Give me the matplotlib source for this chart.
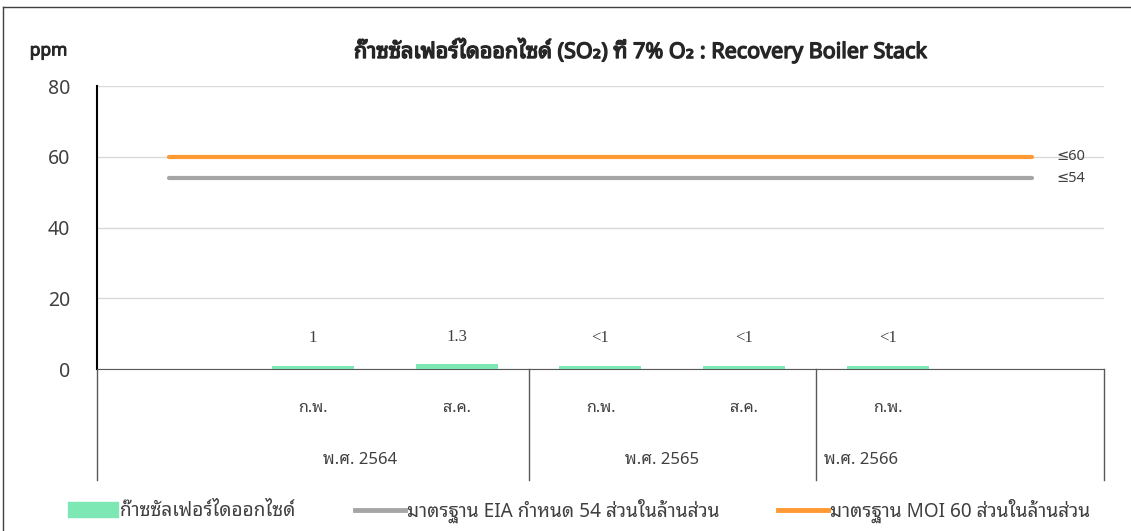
import numpy as np
import matplotlib
matplotlib.use('Agg')
import matplotlib.pyplot as plt
import matplotlib.patheffects as pe
from matplotlib.lines import Line2D
from matplotlib.patches import Patch

plt.rcParams['font.family'] = ['Noto Sans Thai Looped', 'DejaVu Sans']

# data
months = ['', 'ก.พ.', 'ส.ค.', 'ก.พ.', 'ส.ค.', 'ก.พ.', '']
so2 = [np.nan, 1, 1.3, 0.9, 0.9, 0.9, np.nan]
bar_labels = ['', '1', '1.3', '<1', '<1', '<1', '']
years = ['พ.ศ. 2564', 'พ.ศ. 2565', 'พ.ศ. 2566']
year_pos = [1.33, 3.43, 4.81]
year_breaks = [-0.5, 2.5, 4.5, 6.5]
eia_limit = 54
moi_limit = 60

green = '#7de8b4'
grey = '#a5a5a5'
orange = '#ff9933'
txt = '#404040'

x = np.arange(len(months))

fig = plt.figure(figsize=(11.31, 5.31), dpi=100)
ax = fig.add_axes([0.0858, 0.305, 0.8902, 0.533])

ax.bar(x, so2, width=0.57, color=green, zorder=3)
ax.plot(x, [eia_limit] * len(x), color=grey, lw=3, solid_capstyle='round', zorder=4)
ax.plot(x, [moi_limit] * len(x), color=orange, lw=3, solid_capstyle='round', zorder=5)

for xi, v, lab in zip(x, so2, bar_labels):
    if lab:
        ax.text(xi, v + 5.5, lab, ha='center', va='bottom', fontsize=12,
                family='Liberation Serif', color=txt)

ax.text(6.17, moi_limit, '≤60', va='center', fontsize=10.5, color=txt)
ax.text(6.17, eia_limit, '≤54', va='center', fontsize=10.5, color=txt)

ax.set_xlim(-0.5, 6.5)
ax.set_ylim(0, 80)
ax.set_yticks([0, 20, 40, 60, 80])
ax.tick_params(axis='y', length=0, pad=19.5, labelsize=14, labelcolor=txt)
ax.set_xticks([])
ax.grid(axis='y', color='#d9d9d9', lw=1, zorder=0)
for s in ['top', 'right']:
    ax.spines[s].set_visible(False)
ax.spines['left'].set_color('black')
ax.spines['left'].set_linewidth(1.5)
ax.spines['bottom'].set_color('#595959')

# two-level category axis
xt = ax.get_xaxis_transform()
for xi, m in zip(x, months):
    ax.text(xi, -0.138, m, transform=xt, ha='center', va='center', fontsize=11.5, color=txt)
for p, y in zip(year_pos, years):
    ax.text(p, -0.322, y, transform=xt, ha='center', va='center', fontsize=12, color=txt)
for b in year_breaks:
    ax.plot([b, b], [0, -0.392], transform=xt, color='#595959', lw=1, clip_on=False)

fig.text(0.566, 0.905,
         'ก๊าซซัลเฟอร์ไดออกไซด์ (SO₂) ที่ 7% O₂ : Recovery Boiler Stack',
         ha='center', va='center', fontsize=15.5, color='#262626',
         path_effects=[pe.withStroke(linewidth=1.0, foreground='#262626')])
fig.text(0.043, 0.905, 'ppm', ha='center', va='center', fontsize=12.5, color='#262626',
         path_effects=[pe.withStroke(linewidth=0.7, foreground='#262626')])

# legend, one entry per anchor so each sits where the reference has it
entries = [(Patch(color=green), 'ก๊าซซัลเฟอร์ไดออกไซด์', 0.060),
           (Line2D([], [], color=grey, lw=3.5), 'มาตรฐาน EIA กำหนด 54 ส่วนในล้านส่วน', 0.314),
           (Line2D([], [], color=orange, lw=3.5), 'มาตรฐาน MOI 60 ส่วนในล้านส่วน', 0.688)]
for h, lab, x0 in entries:
    fig.legend([h], [lab], loc='center left', bbox_to_anchor=(x0, 0.038), frameon=False,
               fontsize=13.7, handlelength=2.63, handleheight=0.85, handletextpad=0.1,
               borderpad=0, borderaxespad=0, labelcolor=txt)

# outer border
fig.add_artist(Line2D([0.003, 0.003], [0, 0.987], color='#404040', lw=1))
fig.add_artist(Line2D([0.003, 1], [0.987, 0.987], color='#404040', lw=1))

fig.savefig('out.png', dpi=100)
